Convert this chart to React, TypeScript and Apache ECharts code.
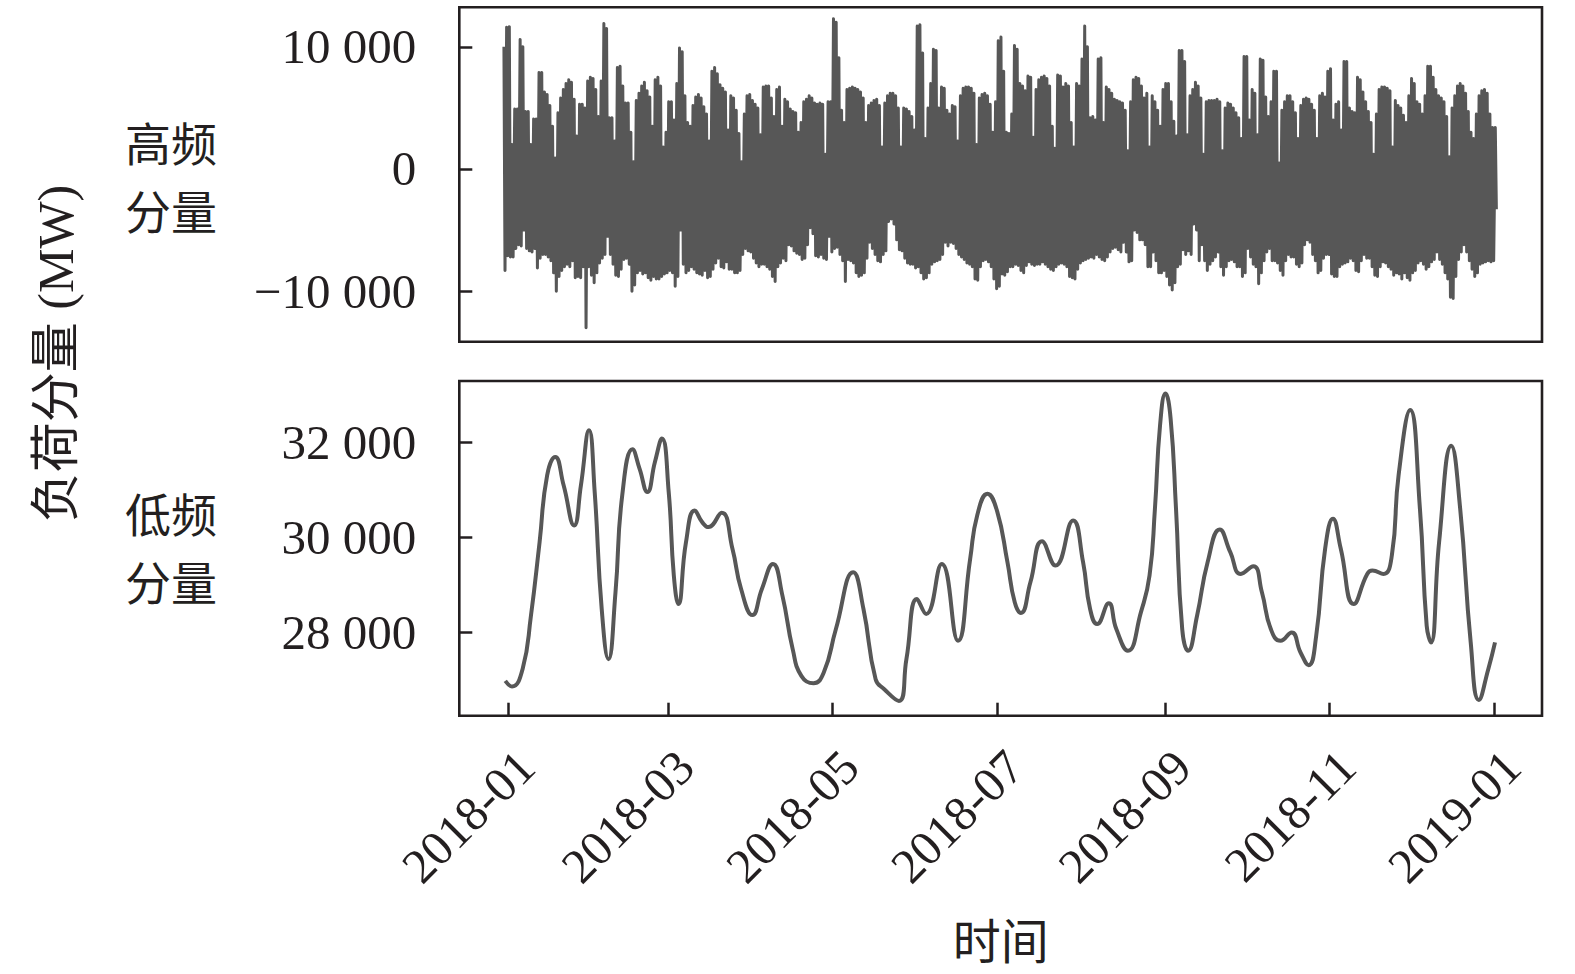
import React, { useEffect, useRef } from 'react';
import * as echarts from 'echarts';

// ---------- data ----------
const DAY = 86400000;
const T0 = Date.UTC(2018, 0, 1);

// high-frequency component: daily upper / lower envelope, first day = 2017-12-30 (day -2)
const HF_FIRST_DAY = -2;
const HF_HIGH = [
  10000, 11600, 11650, 2000, 4900, 4900, 10600, 10000, 4700, 4700,
  2000, 4100, 4100, 7900, 7900, 6300, 6100, 5200, 3500, 900,
  4600, 5800, 6500, 7000, 7300, 7100, 5700, 2700, 5300, 5300,
  5000, 7200, 7500, 7400, 6500, 4300, 7200, 11900, 11500, 4200,
  4200, 2300, 8300, 8400, 6800, 5400, 5400, 3000, 600, 5600,
  6200, 6800, 7100, 6400, 5900, 3500, 7300, 7500, 6800, 1800,
  3000, 5500, 5500, 4000, 7000, 9900, 9600, 6000, 3800, 3500,
  5200, 5900, 6100, 5800, 5100, 4500, 2300, 8000, 8300, 7800,
  6900, 6600, 6300, 3200, 6000, 5800, 4800, 2900, 600, 4500,
  6000, 6100, 5600, 5300, 5000, 2800, 6700, 6800, 6800, 5800,
  4300, 6500, 6700, 3500, 5700, 5500, 4900, 4700, 4600, 3000,
  3800, 5500, 5700, 6000, 5800, 5400, 5300, 5400, 5300, 1200,
  5500, 5500, 12300, 12000, 9100, 4800, 3800, 6500, 6600, 6700,
  6600, 6500, 6300, 5800, 3800, 5200, 5400, 5600, 5700, 5200,
  1800, 5400, 6000, 6200, 6200, 6000, 5000, 1800, 5000, 4900,
  4700, 4300, 3200, 11700, 11800, 9500, 2500, 5000, 7000, 9800,
  9700, 5000, 6700, 6600, 4800, 4500, 5200, 5100, 2300, 6000,
  6600, 6700, 6700, 6600, 6200, 2000, 5800, 6100, 6200, 6000,
  5300, 3000, 5500, 10500, 10800, 8000, 3000, 2900, 4500, 10100,
  9800, 7000, 6800, 6400, 7600, 7500, 2600, 6500, 7300, 7500,
  7600, 7400, 6800, 3500, 1700, 7700, 7600, 6700, 7000, 6800,
  3800, 1800, 7000, 6800, 9000, 11700, 10000, 4200, 4300, 4000,
  9000, 9100, 3800, 6700, 6500, 6200, 5700, 5600, 5500, 5400,
  4800, 1500, 5500, 7300, 7500, 7400, 6800, 5800, 6200, 1800,
  6000, 5500, 4800, 3500, 6500, 7000, 7000, 5500, 3900, 2700,
  9700, 9700, 8800, 2800, 6000, 6500, 7100, 6800, 5800, 1200,
  5500, 5600, 5600, 5600, 5700, 5500, 1500, 5000, 5400, 5300,
  5000, 4600, 4200, 2500, 9200, 9200, 4000, 6500, 6200, 2800,
  9000, 8900, 5900, 4300, 5500, 8000, 8000, 500, 4800, 5500,
  6000, 6000, 5500, 4600, 2500, 5200, 5700, 5800, 5700, 5300,
  4800, 2500, 6000, 6200, 5900, 8000, 8200, 4000, 5300, 5500,
  3200, 8800, 8800, 5000, 4700, 4600, 7500, 7300, 6300, 5500,
  4700, 3800, 1200, 4500, 6500, 6700, 6700, 6600, 6400, 1800,
  5600, 5200, 5000, 4400, 3800, 6000, 7400, 7000, 5500, 5300,
  4500, 6000, 8400, 8400, 7500, 6500, 6000, 5800, 5500, 4300,
  1000, 5000, 6000, 6800, 7000, 6800, 6200, 4700, 3000, 2500,
  4500, 6000, 6400, 6500, 6200, 4500, 3400, 3400,
];
const HF_LOW = [
  -8300, -7100, -7200, -7200, -6500, -6200, -6300, -5000, -6500, -6700,
  -6800, -6500, -8100, -7300, -7000, -7000, -7200, -7500, -8500, -10000,
  -8800, -8300, -8000, -7800, -8000, -7500, -8900, -8800, -8900, -8000,
  -13000, -8000, -8700, -9300, -8500, -7700, -7300, -7000, -5500, -7000,
  -7800, -8700, -8800, -8200, -7400, -7300, -7800, -10000, -9500, -8500,
  -8300, -8600, -8500, -8900, -9100, -8800, -9000, -9000, -8800, -8600,
  -8500, -8300, -8500, -9600, -8800, -5000, -7800, -8500, -8300, -8000,
  -8200, -8500, -8600, -8700, -8300, -8900, -8800, -8200, -7700, -7300,
  -8000, -8100, -7600, -8200, -8200, -8500, -8500, -8300, -7000, -6500,
  -6700, -6800, -7300, -7700, -8000, -7800, -7800, -8000, -8200, -8800,
  -9200, -8000, -7700, -7300, -7500, -6200, -6300, -6700, -6900, -7000,
  -7400, -7300, -6200, -4800, -5300, -7100, -7200, -7000, -7300, -7400,
  -5500, -6800, -6500, -6400, -7000, -7500, -9200, -7400, -7500, -7700,
  -8500, -8800, -8700, -8500, -7300, -6000, -6500, -7000, -7500, -7600,
  -7000, -6700, -4300, -4100, -4500, -5800, -6600, -6700, -7300, -7700,
  -7800, -7800, -8100, -8000, -8500, -9000, -8900, -8500, -7800, -7600,
  -7500, -7400, -7000, -6000, -6300, -6000, -6100, -6500, -7000, -7200,
  -7400, -7700, -7800, -8000, -9000, -9100, -8000, -7500, -7400, -7600,
  -8000, -9000, -9800, -9600, -8600, -8700, -8400, -8000, -8000, -7800,
  -7900, -8300, -8500, -7900, -7600, -7800, -7900, -7800, -7800, -7600,
  -7800, -8000, -8200, -8300, -8000, -7800, -7700, -7800, -8000, -8800,
  -8900, -9000, -8200, -7700, -7500, -7400, -7300, -7200, -7300, -7000,
  -7200, -7400, -7500, -7200, -6800, -6500, -6400, -6600, -6800, -6000,
  -6800, -7600, -7500, -5000, -5200, -5800, -5800, -6200, -8000, -8000,
  -6800, -7500, -8500, -8500, -8300, -8800, -9500, -9900, -9300, -8000,
  -7800, -6600, -7000, -6700, -7000, -4500, -5000, -7500, -6200, -7500,
  -8300, -7800, -7500, -7200, -6800, -8000, -8700, -8000, -7500, -7400,
  -7600, -8000, -8000, -8800, -8500, -6500, -7200, -7800, -8000, -9400,
  -8500, -7500, -6800, -6500, -7500, -7500, -7700, -8300, -8700, -7500,
  -7000, -7200, -7200, -7800, -8000, -7700, -6200, -5800, -6000, -7000,
  -7500, -8500, -8300, -7300, -7000, -7000, -8600, -8800, -8800, -8000,
  -7800, -7700, -7600, -7300, -7500, -8300, -8400, -7500, -7000, -7300,
  -7300, -8000, -8700, -8800, -8000, -7600, -7700, -8000, -8200, -8700,
  -8500, -8600, -9000, -8500, -8900, -9100, -8500, -8300, -7700, -7500,
  -7800, -8200, -8000, -7600, -7400, -6800, -7400, -7800, -8500, -9000,
  -10500, -10600, -8800, -7400, -6800, -6200, -6800, -7500, -8200, -8800,
  -8500, -7800, -7700, -7600, -7500, -7600, -7500, -3300,
];

// low-frequency component: days after 2018-01-01 and values (MW)
const LF_DAYS = [
  -1.2, 1.3, 5.2, 8.3, 11.5, 14.3, 17.3, 20.4, 24.3, 26.8,
  29.8, 31.9, 34.5, 37.0, 39.6, 42.1, 45.9, 48.5, 51.4, 54.2,
  56.8, 59.3, 61.2, 62.9, 65.7, 68.9, 71.7, 74.0, 78.9, 82.9,
  86.1, 90.3, 93.8, 97.9, 101.4, 105.2, 108.4, 112.9, 116.7, 121.2,
  127.6, 131.4, 135.9, 139.1, 144.5, 147.3, 151.2, 154.6, 160.4, 166.4,
  170.9, 173.5, 177.3, 180.9, 184.7, 187.4, 189.7, 193.2, 197.5, 202.5,
  209.0, 212.7, 215.3, 217.9, 222.2, 225.0, 229.3, 234.1, 237.3, 239.3,
  241.2, 243.2, 245.1, 247.1, 249.4, 251.6, 254.9, 258.8, 263.3, 267.2,
  271.1, 275.7, 278.9, 282.2, 285.8, 289.9, 293.2, 296.2, 299.0, 302.3,
  305.2, 308.1, 312.9, 317.9, 319.8, 323.9, 327.0, 329.5, 333.8, 337.4,
  339.9, 341.5, 344.5, 349.0, 352.3, 356.2, 359.2, 362.7, 365.2,
];
const LF_VALUES = [
  26981, 26862, 27228, 28354, 29903, 31311, 31698, 31100, 30255, 31100,
  32261, 30959, 28495, 27439, 28847, 30889, 31860, 31452, 30959, 31593,
  32085, 30959, 29199, 28600, 29903, 30572, 30325, 30220, 30522, 29762,
  28917, 28368, 28917, 29445, 28777, 27650, 27087, 26932, 27157, 28073,
  29270, 28495, 27017, 26805, 26559, 27439, 28706, 28389, 29445, 27826,
  29551, 30466, 30924, 30550, 29481, 28636, 28410, 29058, 29924, 29410,
  30361, 29481, 28495, 28178, 28615, 28073, 27615, 28425, 29199, 30607,
  32367, 33036, 32508, 30607, 28073, 27615, 28354, 29481, 30171, 29692,
  29234, 29396, 28847, 28073, 27826, 28002, 27580, 27312, 27932, 29762,
  30396, 29762, 28600, 29234, 29304, 29234, 29621, 31311, 32684, 30607,
  28143, 27791, 29903, 31931, 30607, 27791, 26580, 27228, 27791,
];

const X_TICKS = ['2018-01', '2018-03', '2018-05', '2018-07', '2018-09', '2018-11', '2019-01'];
const HF_TICKS = [-10000, 0, 10000];
const LF_TICKS = [28000, 30000, 32000];

// ---------- options ----------
const INK = '#231f20';
const LINE = '#575757';
const SERIF = '"Liberation Serif", "Times New Roman", "Noto Sans CJK SC", serif';
const CJK = '"Noto Sans CJK SC", "Liberation Serif", sans-serif';

const parseMonth = (s: string) => {
  const [y, m] = s.split('-').map(Number);
  return Date.UTC(y, m - 1, 1);
};
const tickValues = X_TICKS.map(parseMonth);
const LABEL_SHIFT = 6.5 * DAY;
const labelValues = tickValues.map((v) => v + LABEL_SHIFT);

const X_MIN = T0 - 18.22 * DAY;
const X_MAX = Date.UTC(2019, 0, 1) + 17.59 * DAY;

const fmtNum = (v: number) => {
  const s = String(Math.abs(Math.round(v))).replace(/\B(?=(\d{3})+(?!\d))/g, ' ');
  return (v < 0 ? '\u2212' : '') + s;
};
const fmtMonth = (v: number) => {
  const d = new Date(v - LABEL_SHIFT + 12 * 3600000);
  return `${d.getUTCFullYear()}-${String(d.getUTCMonth() + 1).padStart(2, '0')}`;
};

const hfData: [number, number][] = [];
HF_HIGH.forEach((hi, i) => {
  const day = HF_FIRST_DAY + i;
  hfData.push([T0 + (day + 0.3) * DAY, hi]);
  hfData.push([T0 + (day + 0.7) * DAY, HF_LOW[i]]);
});
const lfData = LF_DAYS.map((d, i) => [T0 + d * DAY, LF_VALUES[i]]);

const tickStyle = { show: true, inside: true, length: 13, lineStyle: { color: INK, width: 2.5 } };

const gridBase = {
  show: true,
  borderColor: INK,
  borderWidth: 2.6,
  backgroundColor: 'transparent',
  containLabel: false,
};

const xBase = {
  type: 'value',
  min: X_MIN,
  max: X_MAX,
  axisLine: { show: false },
  splitLine: { show: false },
  axisTick: { ...tickStyle, customValues: tickValues },
};

const yLabel = (ticks: number[]) => ({
  show: true,
  customValues: ticks,
  margin: 43,
  fontSize: 49,
  fontFamily: SERIF,
  color: INK,
  padding: [0, 0, 6, 0],
  formatter: (v: number) => fmtNum(v),
});

const sideText = (text: string, y: number) => ({
  type: 'text',
  x: 125,
  y,
  style: {
    text,
    fontSize: 46,
    lineHeight: 50,
    fontFamily: CJK,
    fill: INK,
    align: 'left',
    verticalAlign: 'middle',
    textAlign: 'left',
    textVerticalAlign: 'middle',
  },
});

const option: any = {
  animation: false,
  backgroundColor: '#ffffff',
  grid: [
    { ...gridBase, left: 459.3, top: 7.3, width: 1082.7, height: 334.4 },
    { ...gridBase, left: 459.3, top: 381, width: 1082.7, height: 334.7 },
  ],
  xAxis: [
    { ...xBase, gridIndex: 0, axisLabel: { show: false } },
    {
      ...xBase,
      gridIndex: 1,
      axisLabel: {
        show: true,
        customValues: labelValues,
        rotate: 45,
        margin: 43,
        fontSize: 49,
        fontFamily: SERIF,
        color: INK,
        showMinLabel: true,
        showMaxLabel: true,
        formatter: (v: number) => fmtMonth(v),
      },
      name: '时间',
      nameLocation: 'middle',
      nameGap: 198,
      nameTextStyle: { fontSize: 48, fontFamily: CJK, color: INK },
    },
  ],
  yAxis: [
    {
      type: 'value',
      gridIndex: 0,
      min: -14133,
      max: 13232,
      axisLine: { show: false },
      splitLine: { show: false },
      axisTick: { ...tickStyle, customValues: HF_TICKS },
      axisLabel: yLabel(HF_TICKS),
    },
    {
      type: 'value',
      gridIndex: 1,
      min: 26248,
      max: 33297,
      axisLine: { show: false },
      splitLine: { show: false },
      axisTick: { ...tickStyle, customValues: LF_TICKS },
      axisLabel: yLabel(LF_TICKS),
    },
  ],
  series: [
    {
      name: '高频分量',
      type: 'line',
      xAxisIndex: 0,
      yAxisIndex: 0,
      data: hfData,
      symbol: 'none',
      showSymbol: false,
      silent: true,
      clip: true,
      lineStyle: { color: LINE, width: 3.0, join: 'round' },
    },
    {
      name: '低频分量',
      type: 'line',
      xAxisIndex: 1,
      yAxisIndex: 1,
      data: lfData,
      smooth: 0.5,
      symbol: 'none',
      showSymbol: false,
      silent: true,
      clip: true,
      lineStyle: { color: LINE, width: 4 },
    },
  ],
  graphic: [
    sideText('高频', 141),
    sideText('分量', 209),
    sideText('低频', 512),
    sideText('分量', 580),
    {
      type: 'text',
      x: 56,
      y: 353.5,
      rotation: Math.PI / 2,
      style: {
        text: '负荷分量 (MW)',
        fontSize: 50,
        fontFamily: SERIF,
        fill: INK,
        align: 'center',
        verticalAlign: 'middle',
        textAlign: 'center',
        textVerticalAlign: 'middle',
      },
    },
  ],
};

export default function App() {
  const ref = useRef<HTMLDivElement>(null);
  useEffect(() => {
    if (!ref.current) return;
    const chart = echarts.init(ref.current, null, { renderer: 'svg' });
    chart.setOption(option);
    return () => chart.dispose();
  }, []);
  return (
    <div
      ref={ref}
      style={{ position: 'absolute', left: 0, top: 0, width: 1575, height: 974, background: '#fff' }}
    />
  );
}
